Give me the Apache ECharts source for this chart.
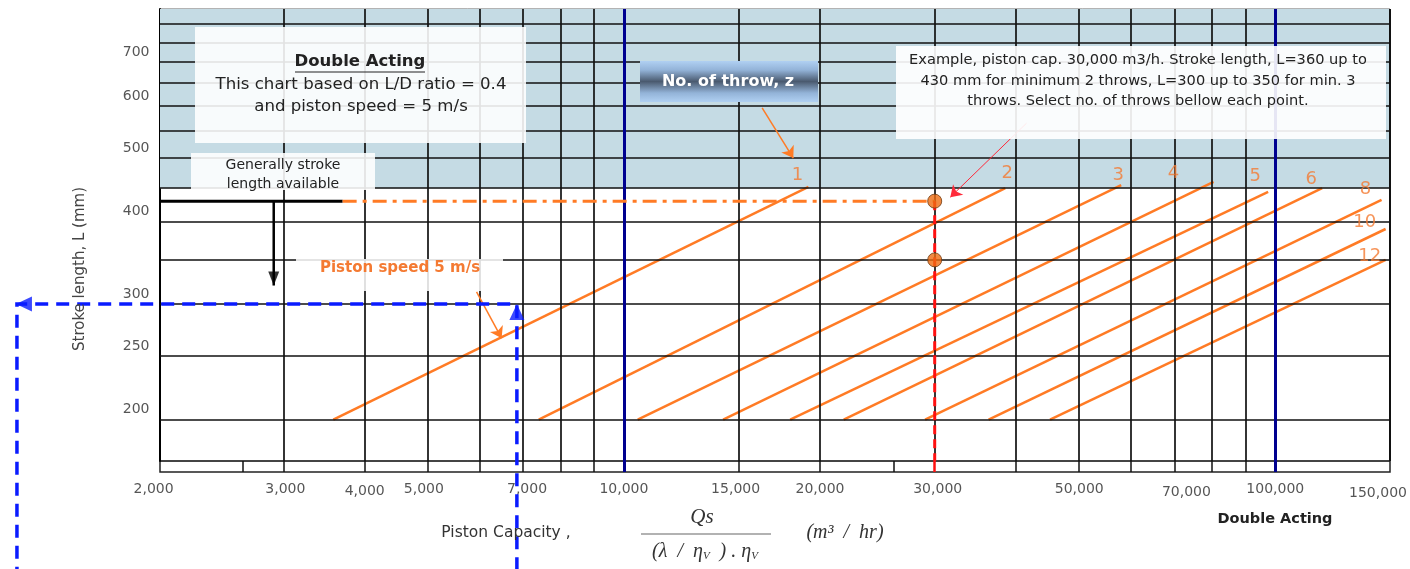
<!DOCTYPE html>
<html><head><meta charset="utf-8">
<script src="https://cdn.jsdelivr.net/npm/echarts@6/dist/echarts.min.js"></script>
<style>html,body{margin:0;padding:0;background:#fff}#c{width:1410px;height:569px}</style>
</head><body><div id="c"></div>
<script>
// ---------------- data ----------------
const xMin = 1940, xMax = 150000;          // piston capacity axis (log)
const yMin = 173, yMax = 843;              // stroke length axis (log)
const xTickValues = [2000,3000,4000,5000,7000,10000,15000,20000,30000,50000,70000,100000,150000];
const xTickLabels = ['2,000','3,000','4,000','5,000','7,000','10,000','15,000','20,000','30,000','50,000','70,000','100,000','150,000'];
const xGridValues = [3000,4000,5000,6000,7000,8000,9000,10000,15000,20000,30000,40000,50000,60000,70000,80000,90000,100000];
const xStripTicks = [2600,3000,4000,5000,6000,7000,8000,9000,10000,15000,20000,26000,30000,40000,50000,60000,70000,80000,90000,100000];
const yTickValues = [200,250,300,400,500,600,700];
const yTickLabels = ['200','250','300','400','500','600','700'];
const yGridValues = [200,250,300,350,400,450,500,550,600,650,700,750,800];
const shadedFromL = 450;

const throwNames  = ['1','2','3','4','5','6','8','10','12'];
const throwStartQ = [3580,7400,10500,14200,18000,21750,29000,36300,45100];
const throwStartL = [200,200,200,200,200,200,200,200,200];
const throwEndQ   = [19200,38500,58000,80400,97500,118000,145600,147700,147700];
const throwEndL   = [452,450,455,460,444,450,432,390,350];

const examplePointQ = [30000,30000];
const examplePointL = [430,350];
const availableStrokeL = 430;
const availableLineQ = [1940,3700];
const exampleGuideQ = [3700,30000];
const availableArrowQ = 2900;
const availableArrowEndL = 320;
const speedGuideQ = [6850,6850,1170,1170];
const speedGuideL = [118,300,300,118];
const throwArrowQ = [16300,18200];   const throwArrowL = [596,500];
const speedArrowQ = [5940,6490];     const speedArrowL = [313,266];
const exampleArrowQ = [41500,31700]; const exampleArrowL = [565,436];

// ---------------- styles ----------------
const throwLabelOffsets = [[-11,-12],[2,-15],[-3,-10],[-40,-9],[-13,-16],[-11,-9],[-16,-10],[-21,-7],[-16,-4]];
const xTickLabelOffsets = [[-15,0],[2,0],[0,2],[-4,0],[4,0],[0,0],[-3,0],[0,0],[3,0],[0,0],[12,3],[0,0],[-12,4]];
const FONT = '"DejaVu Sans", sans-serif';
const SERIF = '"Liberation Serif", serif';
const ORANGE = '#ff7b25';
const ORANGE_TEXT = '#f47a32';
const NAVY = '#00008f';
const BLUE = '#0a1bff';
const RED = '#ff1010';

const chart = echarts.init(document.getElementById('c'), null, {renderer:'canvas'});

function vStyle(v){
  if (v === 10000 || v === 100000) return {color:NAVY, width:3, type:'solid'};
  return {color:'#111', width:1.7, type:'solid'};
}
function stripStyle(v){
  if (v === 10000 || v === 100000) return {color:NAVY, width:3, type:'solid'};
  if (v === 30000) return {color:RED, width:2.5, type:'solid'};
  return {color:'#111', width:1.5, type:'solid'};
}

const series = [];
// shaded band
series.push({type:'line', name:'band', data:[[xMin,yMin]], symbol:'none', z:1, silent:true,
  markArea:{silent:true, itemStyle:{color:'#c5dbe4'}, data:[[{yAxis:shadedFromL},{yAxis:yMax}]]}});
// grid lines
series.push({type:'line', name:'gridlines', data:[[xMin,yMin]], symbol:'none', z:2, silent:true,
  markLine:{silent:true, symbol:['none','none'], label:{show:false}, emphasis:{disabled:true},
    data:[
      ...yGridValues.map(v=>({yAxis:v, lineStyle:{color:'#111', width:1.7, type:'solid'}})),
      ...xGridValues.map(v=>({xAxis:v, lineStyle:vStyle(v)})),
      {xAxis:xMax, lineStyle:{color:'#111', width:2, type:'solid'}}
    ]}});
// throw lines
throwNames.forEach((n,i)=>{
  series.push({type:'line', name:'z = '+n, silent:true, z:4, symbol:'none',
    data:[[throwStartQ[i],throwStartL[i]],[throwEndQ[i],throwEndL[i]]],
    lineStyle:{color:ORANGE, width:2.5}});
});
series.push({type:'scatter', name:'throwLabels', silent:true, z:6, clip:false, symbolSize:1,
  itemStyle:{color:'rgba(0,0,0,0)'},
  data: throwNames.map((n,i)=>({value:[throwEndQ[i],throwEndL[i]], label:{offset:throwLabelOffsets[i]}})),
  label:{show:true, position:'inside', formatter:p=>throwNames[p.dataIndex], color:ORANGE_TEXT, fontFamily:FONT, fontSize:18}});
// generally available stroke line
series.push({type:'line', silent:true, z:5, clip:false, symbol:'none',
  data: availableLineQ.map(q=>[q,availableStrokeL]), lineStyle:{color:'#000', width:3}});
series.push({type:'line', silent:true, z:5, symbol:'none',
  data: exampleGuideQ.map(q=>[q,availableStrokeL]), lineStyle:{color:ORANGE, width:3, type:[14,6,4,6]}});
series.push({type:'line', silent:true, z:5, symbol:'none',
  data: [[availableArrowQ,availableStrokeL],[availableArrowQ,availableArrowEndL]], lineStyle:{color:'#000', width:2.5}});
series.push({type:'scatter', silent:true, z:6, symbol:'triangle', symbolSize:[11,14],
  itemStyle:{color:'#000'}, data:[{value:[availableArrowQ,availableArrowEndL], symbolRotate:180, symbolOffset:[0,-7]}]});
// example red dashed
series.push({type:'line', silent:true, z:5, symbol:'none',
  data: [[examplePointQ[0],examplePointL[0]],[examplePointQ[0],yMin]], lineStyle:{color:RED, width:3, type:[9,5]}});
// blue guide (custom series so it may run outside the plot)
series.push({type:'custom', silent:true, z:7, clip:false, data:[[speedGuideQ[1], speedGuideL[1]]],
  renderItem:function(params, api){
    const pts = speedGuideQ.map((q,i)=>api.coord([q, speedGuideL[i]]));
    return {type:'polyline', shape:{points:pts}, style:{stroke:BLUE, lineWidth:3.5, lineDash:[13,8], fill:null}};
  }});
series.push({type:'scatter', silent:true, z:8, clip:false, symbol:'triangle', symbolSize:[15,16],
  itemStyle:{color:BLUE},
  data:[{value:[speedGuideQ[1],speedGuideL[1]], symbolRotate:0, symbolOffset:[0,8]},
        {value:[speedGuideQ[2],speedGuideL[2]], symbolRotate:90, symbolOffset:[7,0]}]});
// example points
series.push({type:'scatter', silent:true, z:9, symbol:'circle', symbolSize:14,
  itemStyle:{color:'#ee6c12', borderColor:'#6e3a0f', borderWidth:1},
  data: examplePointQ.map((q,i)=>[q,examplePointL[i]])});
// annotation arrows
series.push({type:'line', data:[[xMin,yMin]], symbol:'none', z:20, silent:true,
  markLine:{silent:true, symbol:['none','arrow'], symbolSize:11, label:{show:false}, emphasis:{disabled:true},
    data:[
      [{coord:[throwArrowQ[0],throwArrowL[0]], lineStyle:{color:ORANGE,width:1.5,type:'solid'}},{coord:[throwArrowQ[1],throwArrowL[1]]}],
      [{coord:[speedArrowQ[0],speedArrowL[0]], lineStyle:{color:ORANGE,width:1.5,type:'solid'}},{coord:[speedArrowQ[1],speedArrowL[1]]}],
      [{coord:[exampleArrowQ[0],exampleArrowL[0]], lineStyle:{color:'#ff2a3a',width:1,type:'solid'}},{coord:[exampleArrowQ[1],exampleArrowL[1]]}]
    ]}});
// tick labels
series.push({type:'scatter', silent:true, z:6, clip:false, symbolSize:1, itemStyle:{color:'rgba(0,0,0,0)'},
  data: xTickValues.map((v,i)=>({value:[v,yMin], label:{offset:xTickLabelOffsets[i]}})),
  label:{show:true, position:'bottom', distance:21, formatter:p=>xTickLabels[p.dataIndex], color:'#2a2a2a', fontFamily:FONT, fontSize:14}});
series.push({type:'scatter', silent:true, z:6, clip:false, symbolSize:1, itemStyle:{color:'rgba(0,0,0,0)'},
  data: yTickValues.map(v=>[xMin,v]),
  label:{show:true, position:'left', distance:10, offset:[0,-10], formatter:p=>yTickLabels[p.dataIndex], color:'#2a2a2a', fontFamily:FONT, fontSize:14}});
// axis strip ticks
series.push({type:'line', xAxisIndex:1, yAxisIndex:1, data:[[xMin,0]], symbol:'none', silent:true, z:3,
  markLine:{silent:true, symbol:['none','none'], label:{show:false}, emphasis:{disabled:true},
    data: xStripTicks.map(v=>({xAxis:v, lineStyle:stripStyle(v)}))}});

function T(x,y,text,font,fill,extra){
  return {type:'text', x:x, y:y, z:60, silent:true,
    style:Object.assign({text:text, font:font, fill:fill||'#222', align:'center', verticalAlign:'middle', textAlign:'center', textVerticalAlign:'middle'}, extra||{})};
}
const graphic = [
  {type:'rect', z:50, silent:true, shape:{x:195,y:27,width:331,height:116}, style:{fill:'rgba(255,255,255,0.88)'}},
  T(360,62,'Double Acting','bold 16.5px '+FONT),
  {type:'line', z:60, silent:true, shape:{x1:295,y1:72,x2:425,y2:72}, style:{stroke:'#222', lineWidth:1.2}},
  T(361,85,'This chart based on L/D ratio = 0.4','16.6px '+FONT),
  T(361,107,'and piston speed = 5 m/s','16.6px '+FONT),
  {type:'rect', z:50, silent:true, shape:{x:191,y:153,width:184,height:37}, style:{fill:'rgba(255,255,255,0.88)'}},
  T(283,165,'Generally stroke','14px '+FONT),
  T(283,184,'length available','14px '+FONT),
  {type:'rect', z:50, silent:true, shape:{x:640,y:61,width:178,height:41},
    style:{fill:{type:'linear',x:0,y:0,x2:0,y2:1,colorStops:[{offset:0,color:'#b0d0f2'},{offset:0.22,color:'#93b3d8'},{offset:0.5,color:'#4a5a6f'},{offset:0.78,color:'#93b3d8'},{offset:1,color:'#b0d0f2'}]}}},
  T(728,82,'No. of throw, z','bold 16px '+FONT,'#ffffff'),
  {type:'rect', z:50, silent:true, shape:{x:896,y:46,width:490,height:93}, style:{fill:'rgba(255,255,255,0.9)'}},
  T(1138,60,'Example, piston cap. 30,000 m3/h. Stroke length, L=360 up to','14.6px '+FONT),
  T(1138,81,'430 mm for minimum 2 throws, L=300 up to 350 for min. 3','14.6px '+FONT),
  T(1138,101,'throws. Select no. of throws bellow each point.','14.6px '+FONT),
  {type:'rect', z:50, silent:true, shape:{x:296,y:259,width:207,height:32}, style:{fill:'rgba(255,255,255,0.85)'}},
  T(400,268,'Piston speed 5 m/s','bold 15px '+FONT, ORANGE_TEXT),
  T(506,533,'Piston Capacity ,','15.5px '+FONT,'#333'),
  T(702,517,'Qs','italic 21px '+SERIF,'#333'),
  {type:'line', z:60, silent:true, shape:{x1:641,y1:534,x2:771,y2:534}, style:{stroke:'#999', lineWidth:1.5}},
  {type:'text', x:705, y:552, z:60, silent:true, style:{text:'{a|(λ  /  η}{s|V}{a|  ) . η}{s|V}',
    align:'center', verticalAlign:'middle', textAlign:'center', textVerticalAlign:'middle',
    rich:{a:{font:'italic 20px '+SERIF, fill:'#333'}, s:{font:'italic 11px '+SERIF, fill:'#333', verticalAlign:'bottom'}}}},
  T(845,533,'(m³  /  hr)','italic 20px '+SERIF,'#333'),
  T(1275,519,'Double Acting','bold 14.5px '+FONT,'#222'),
  {type:'text', x:80, y:269, z:60, silent:true, rotation:Math.PI/2,
    style:{text:'Stroke length, L (mm)', font:'15px '+FONT, fill:'#444', align:'center', verticalAlign:'middle', textAlign:'center', textVerticalAlign:'middle'}}
];

chart.setOption({
  animation:false,
  grid:[
    {left:160, right:20, top:9, height:452, show:true, borderColor:'#666', borderWidth:1, backgroundColor:'#fff', containLabel:false, outerBoundsMode:'none'},
    {left:160, right:20, top:461, height:11, show:true, borderColor:'#222', borderWidth:1.5, backgroundColor:'rgba(0,0,0,0)', containLabel:false, outerBoundsMode:'none'}
  ],
  xAxis:[
    {type:'log', logBase:10, gridIndex:0, min:xMin, max:xMax, axisLine:{show:false}, axisTick:{show:false}, axisLabel:{show:false}, splitLine:{show:false}, minorTick:{show:false}, minorSplitLine:{show:false}},
    {type:'log', logBase:10, gridIndex:1, min:xMin, max:xMax, show:false, splitLine:{show:false}}
  ],
  yAxis:[
    {type:'log', logBase:10, gridIndex:0, min:yMin, max:yMax, axisLine:{show:true, onZero:false, lineStyle:{color:'#000', width:2}}, axisTick:{show:false}, axisLabel:{show:false}, splitLine:{show:false}, minorTick:{show:false}, minorSplitLine:{show:false}},
    {type:'value', gridIndex:1, min:0, max:1, show:false, splitLine:{show:false}}
  ],
  graphic: graphic,
  series: series
});
</script>
</body></html>
